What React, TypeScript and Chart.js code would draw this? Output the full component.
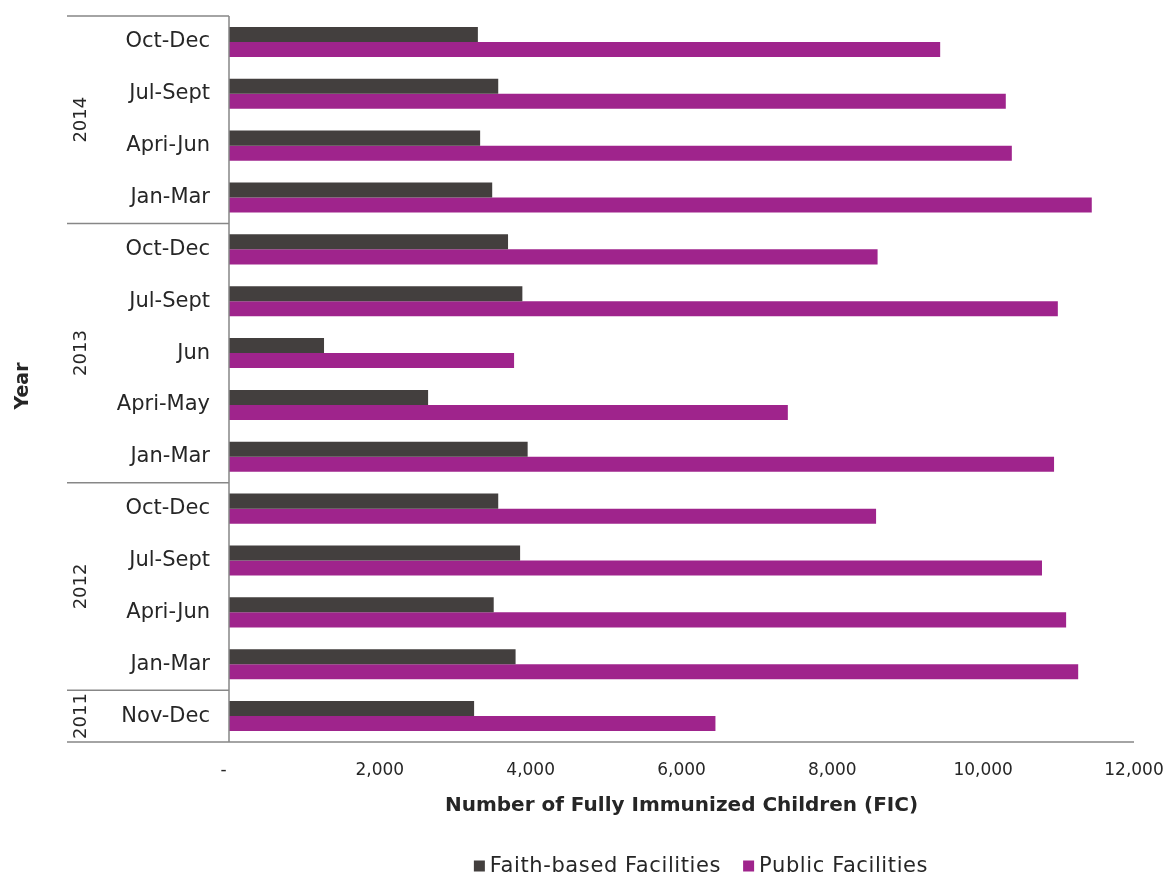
import { useEffect, useRef } from 'react';
import { Chart, registerables } from 'chart.js';

Chart.register(...registerables);

// Quarters, listed top to bottom (most recent first)
const periods = [
  'Oct-Dec', 'Jul-Sept', 'Apri-Jun', 'Jan-Mar',
  'Oct-Dec', 'Jul-Sept', 'Jun', 'Apri-May', 'Jan-Mar',
  'Oct-Dec', 'Jul-Sept', 'Apri-Jun', 'Jan-Mar',
  'Nov-Dec',
];
const years = ['2014', '2013', '2012', '2011'];
const periodsPerYear = [4, 5, 4, 1];

const faithBased = [3300, 3570, 3330, 3490, 3700, 3890, 1260, 2640, 3960, 3570, 3860, 3510, 3800, 3250];
const publicFacilities = [9430, 10300, 10380, 11440, 8600, 10990, 3780, 7410, 10940, 8580, 10780, 11100, 11260, 6450];

const seriesNames = ['Faith-based Facilities', 'Public Facilities'];
const seriesColors = ['#433f3e', '#9f248c'];

const xMin = 0;
const xMax = 12000;
const xStep = 2000;

const axisTitleX = 'Number of Fully Immunized Children (FIC)';
const axisTitleY = 'Year';

const FONT = '"DejaVu Sans", "Noto Sans", sans-serif';
const TEXT = '#262626';
const LINE = '#878787';

const fmt = (v: number) => (v === 0 ? '-  ' : v.toLocaleString('en-US'));

const decorations = {
  id: 'decorations',
  afterDraw(chart: any) {
    const { ctx, chartArea, scales } = chart;
    const y = scales.y;
    const band = (chartArea.bottom - chartArea.top) / periods.length;
    const edge = (i: number) => y.getPixelForValue(i) - band / 2;
    const leftEdge = 67;

    ctx.save();
    ctx.strokeStyle = LINE;
    ctx.lineWidth = 1.5;
    ctx.beginPath();
    // vertical axis line
    ctx.moveTo(chartArea.left, chartArea.top);
    ctx.lineTo(chartArea.left, chartArea.bottom);
    // bottom axis line, extended under the year column
    ctx.moveTo(leftEdge, chartArea.bottom);
    ctx.lineTo(chartArea.right, chartArea.bottom);
    // year group separators
    let idx = 0;
    ctx.moveTo(leftEdge, edge(0));
    ctx.lineTo(chartArea.left, edge(0));
    periodsPerYear.forEach((count) => {
      idx += count;
      if (idx < periods.length) {
        ctx.moveTo(leftEdge, edge(idx));
        ctx.lineTo(chartArea.left, edge(idx));
      }
    });
    ctx.stroke();

    // year labels, rotated
    ctx.fillStyle = TEXT;
    ctx.font = `18px ${FONT}`;
    ctx.textAlign = 'center';
    ctx.textBaseline = 'middle';
    idx = 0;
    years.forEach((yr, g) => {
      const top = edge(idx);
      idx += periodsPerYear[g];
      const bottom = edge(idx);
      ctx.save();
      ctx.translate(81, (top + bottom) / 2);
      ctx.rotate(-Math.PI / 2);
      ctx.fillText(yr, 0, 0);
      ctx.restore();
    });

    // y axis title
    ctx.font = `bold 19px ${FONT}`;
    ctx.save();
    ctx.translate(23, 386);
    ctx.rotate(-Math.PI / 2);
    ctx.fillText(axisTitleY, 0, 0);
    ctx.restore();

    // x axis title
    ctx.font = `bold 20px ${FONT}`;
    ctx.fillText(axisTitleX, (chartArea.left + chartArea.right) / 2, 806);

    // legend
    ctx.font = `21px ${FONT}`;
    ctx.textAlign = 'left';
    if ('letterSpacing' in ctx) (ctx as any).letterSpacing = '0.6px';
    const box = 11;
    const gapText = 5;
    const gapItem = 22;
    const widths = seriesNames.map((s) => ctx.measureText(s).width);
    const total = widths.reduce((a, w) => a + box + gapText + w, 0) + gapItem * (seriesNames.length - 1);
    let x = 701 - total / 2;
    const ly = 866;
    seriesNames.forEach((name, i) => {
      ctx.fillStyle = seriesColors[i];
      ctx.fillRect(x, ly - box / 2, box, box);
      x += box + gapText;
      ctx.fillStyle = TEXT;
      ctx.fillText(name, x, ly + 1);
      x += widths[i] + gapItem;
    });
    ctx.restore();
  },
};

export default function App() {
  const canvasRef = useRef<HTMLCanvasElement | null>(null);

  useEffect(() => {
    if (!canvasRef.current) return;
    const chart = new Chart(canvasRef.current, {
      type: 'bar',
      data: {
        labels: periods,
        datasets: [
          {
            label: seriesNames[0],
            data: faithBased,
            backgroundColor: seriesColors[0],
            borderWidth: 0,
            barPercentage: 1,
            categoryPercentage: 0.58,
          },
          {
            label: seriesNames[1],
            data: publicFacilities,
            backgroundColor: seriesColors[1],
            borderWidth: 0,
            barPercentage: 1,
            categoryPercentage: 0.58,
          },
        ],
      },
      options: {
        indexAxis: 'y',
        responsive: false,
        animation: false,
        devicePixelRatio: 1,
        layout: { padding: { top: 16, right: 38, left: 0, bottom: 0 } },
        plugins: {
          legend: { display: false },
          tooltip: { enabled: false },
        },
        scales: {
          x: {
            min: xMin,
            max: xMax,
            grid: { display: false, drawTicks: false },
            border: { display: false },
            ticks: {
              stepSize: xStep,
              padding: 18,
              color: TEXT,
              font: { family: FONT, size: 17 },
              callback: (v: any) => fmt(Number(v)),
              maxRotation: 0,
            },
            afterFit: (scale: any) => {
              scale.height = 135;
              scale.paddingLeft = 0;
              scale.paddingRight = 0;
            },
          },
          y: {
            grid: { display: false, drawTicks: false },
            border: { display: false },
            ticks: {
              padding: 19,
              color: TEXT,
              font: { family: FONT, size: 21 },
              autoSkip: false,
            },
            afterFit: (scale: any) => {
              scale.width = 229;
              scale.paddingTop = 0;
              scale.paddingBottom = 0;
            },
          },
        },
      },
      plugins: [decorations],
    });
    return () => chart.destroy();
  }, []);

  return (
    <div style={{ position: 'absolute', left: 0, top: 0, width: 1172, height: 877, background: '#ffffff' }}>
      <canvas ref={canvasRef} width={1172} height={877} style={{ display: 'block' }} />
    </div>
  );
}
